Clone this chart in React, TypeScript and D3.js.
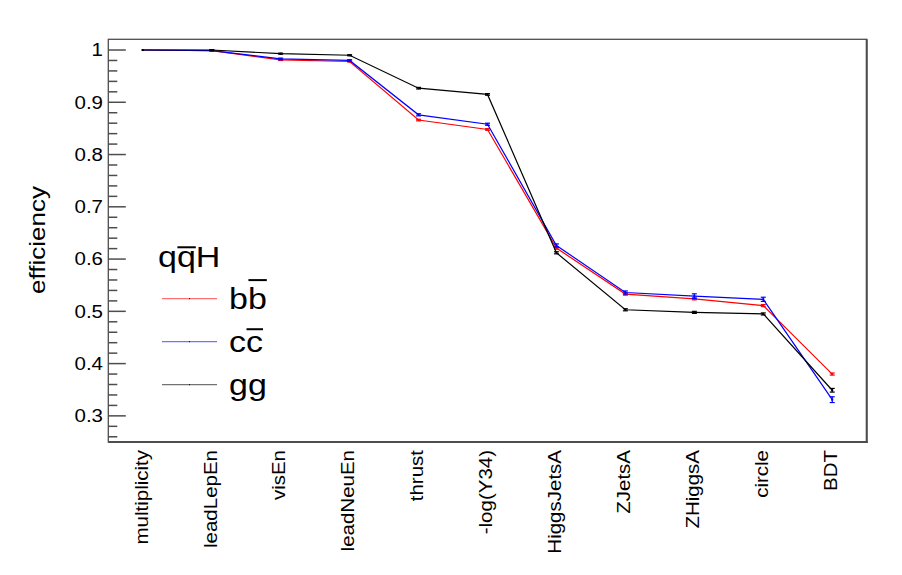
import React from 'react';
import * as d3 from 'd3';

const categories = [
  'multiplicity', 'leadLepEn', 'visEn', 'leadNeuEn', 'thrust', '-log(Y34)',
  'HiggsJetsA', 'ZJetsA', 'ZHiggsA', 'circle', 'BDT',
];

const bbValues = [1.0, 0.999, 0.981, 0.978, 0.866, 0.848, 0.621, 0.533, 0.524, 0.511, 0.380];
const bbErrors = [0, 0.0005, 0.001, 0.001, 0.0015, 0.0015, 0.002, 0.002, 0.002, 0.002, 0.002];
const ccValues = [1.0, 0.999, 0.983, 0.980, 0.876, 0.858, 0.626, 0.536, 0.529, 0.523, 0.331];
const ccErrors = [0, 0.001, 0.0015, 0.0015, 0.002, 0.002, 0.003, 0.003, 0.0045, 0.004, 0.0055];
const ggValues = [1.0, 1.0, 0.993, 0.990, 0.927, 0.915, 0.612, 0.503, 0.498, 0.495, 0.349];
const ggErrors = [0, 0.0005, 0.001, 0.001, 0.0015, 0.0015, 0.002, 0.002, 0.002, 0.002, 0.0035];

const yTicks = [0.3, 0.4, 0.5, 0.6, 0.7, 0.8, 0.9, 1];
const yTickLabels = ['0.3', '0.4', '0.5', '0.6', '0.7', '0.8', '0.9', '1'];

const series = [
  { name: 'b', values: bbValues, errors: bbErrors, color: '#ff0000' },
  { name: 'c', values: ccValues, errors: ccErrors, color: '#0000ff' },
  { name: 'g', values: ggValues, errors: ggErrors, color: '#000000' },
];

const W = 902;
const H = 575;
const left = 108.3;
const right = 866.7;
const top = 39.3;
const bottom = 442;
const font = '"Liberation Sans", Arial, Helvetica, sans-serif';
const squash = 0.87;
const frameColor = '#4d4d4d';

const App: React.FC = () => {
  const x = d3.scaleBand<string>().domain(categories).range([left, right]).padding(0);
  const y = d3.scaleLinear().domain([0.25, 1.0205]).range([bottom, top]);
  const cx = (c: string) => (x(c) || 0) + x.bandwidth() / 2;

  const minorTicks = d3.range(0.26, 1.02, 0.02).filter(
    (v) => !yTicks.some((t) => Math.abs(t - v) < 1e-6)
  );

  const line = d3.line<number>()
    .x((_, i) => cx(categories[i]))
    .y((d) => y(d));

  // legend layout
  const legFs = 34;
  const legTitleX = 158;
  const legTitleY = 267;
  const legLineX0 = 162;
  const legLineX1 = 217;
  const legTextX = 229;
  const legRows = [309, 352, 395];
  const qW = 0.556 * legFs;

  return (
    <svg
      width={W}
      height={H}
      style={{ position: 'absolute', left: 0, top: 0, background: '#fff' }}
      fontFamily={font}
    >
      <rect x={0} y={0} width={W} height={H} fill="#fff" />

      {/* y ticks */}
      {yTicks.map((t) => (
        <line key={'M' + t} x1={left} x2={left + 17.5} y1={y(t)} y2={y(t)} stroke={frameColor} strokeWidth={1.5} />
      ))}
      {minorTicks.map((t) => (
        <line key={'m' + t.toFixed(2)} x1={left} x2={left + 9} y1={y(t)} y2={y(t)} stroke={frameColor} strokeWidth={1.5} />
      ))}
      {yTicks.map((t, i) => (
        <text
          key={'l' + t}
          transform={`translate(103, ${y(t)}) scale(1, ${squash})`}
          textAnchor="end"
          dy="0.36em"
          fontSize={20.5}
          fill="#000"
        >
          {yTickLabels[i]}
        </text>
      ))}

      {/* x labels */}
      {categories.map((c) => (
        <text
          key={c}
          transform={`translate(${cx(c)}, 450) rotate(-90) scale(1, ${squash})`}
          textAnchor="end"
          y={0.27 * 20.5}
          fontSize={20.5}
          fill="#000"
        >
          {c}
        </text>
      ))}

      {/* y title */}
      <text
        transform={`translate(39, 240) rotate(-90) scale(1, ${squash})`}
        textAnchor="middle"
        y={0.27 * 26}
        fontSize={26}
        fill="#000"
      >
        efficiency
      </text>

      {/* series */}
      {series.map((s) => (
        <g key={s.name}>
          <path d={line(s.values) || ''} fill="none" stroke={s.color} strokeWidth={1.2} />
          {s.values.map((v, i) => {
            const px = cx(categories[i]);
            const e = s.errors[i];
            return (
              <g key={i} stroke={s.color} strokeWidth={1.2}>
                {e > 0 && (
                  <>
                    <line x1={px} x2={px} y1={y(v - e)} y2={y(v + e)} />
                    <line x1={px - 2.5} x2={px + 2.5} y1={y(v - e)} y2={y(v - e)} />
                    <line x1={px - 2.5} x2={px + 2.5} y1={y(v + e)} y2={y(v + e)} />
                  </>
                )}
                <rect x={px - 1} y={y(v) - 1} width={2} height={2} fill={s.color} stroke="none" />
              </g>
            );
          })}
        </g>
      ))}

      {/* frame */}
      <rect x={left} y={top} width={right - left} height={bottom - top} fill="none" stroke={frameColor} strokeWidth={1.3} />
      <line x1={right} x2={right} y1={top} y2={bottom + 1} stroke={frameColor} strokeWidth={2} />
      <line x1={left} x2={right + 1} y1={bottom} y2={bottom} stroke={frameColor} strokeWidth={2} />

      {/* legend */}
      <text
        transform={`translate(${legTitleX}, ${legTitleY}) scale(1, ${squash})`}
        fontSize={legFs}
        fill="#000"
      >
        qqH
      </text>
      <line
        x1={legTitleX + qW + 0.5}
        x2={legTitleX + 2 * qW}
        y1={legTitleY - 0.58 * legFs}
        y2={legTitleY - 0.58 * legFs}
        stroke="#000"
        strokeWidth={2}
      />
      {series.map((s, i) => {
        const by = legRows[i];
        const chW = s.name === 'c' ? 0.5 * legFs : 0.556 * legFs;
        const barY = s.name === 'b' ? by - 0.85 * legFs : by - 0.67 * legFs;
        return (
          <g key={'leg' + s.name}>
            <line x1={legLineX0} x2={legLineX1} y1={by - 10.3} y2={by - 10.3} stroke={s.color} strokeWidth={1.2} opacity={0.55} />
            <rect x={(legLineX0 + legLineX1) / 2 - 0.5} y={by - 10.8} width={1} height={1} fill="#000" />
            <text
              transform={`translate(${legTextX}, ${by}) scale(1, ${squash})`}
              fontSize={legFs}
              fill="#000"
            >
              {s.name + s.name}
            </text>
            {s.name !== 'g' && (
              <line
                x1={legTextX + chW + 0.5}
                x2={legTextX + 2 * chW}
                y1={barY}
                y2={barY}
                stroke="#000"
                strokeWidth={2}
              />
            )}
          </g>
        );
      })}
    </svg>
  );
};

export default App;
